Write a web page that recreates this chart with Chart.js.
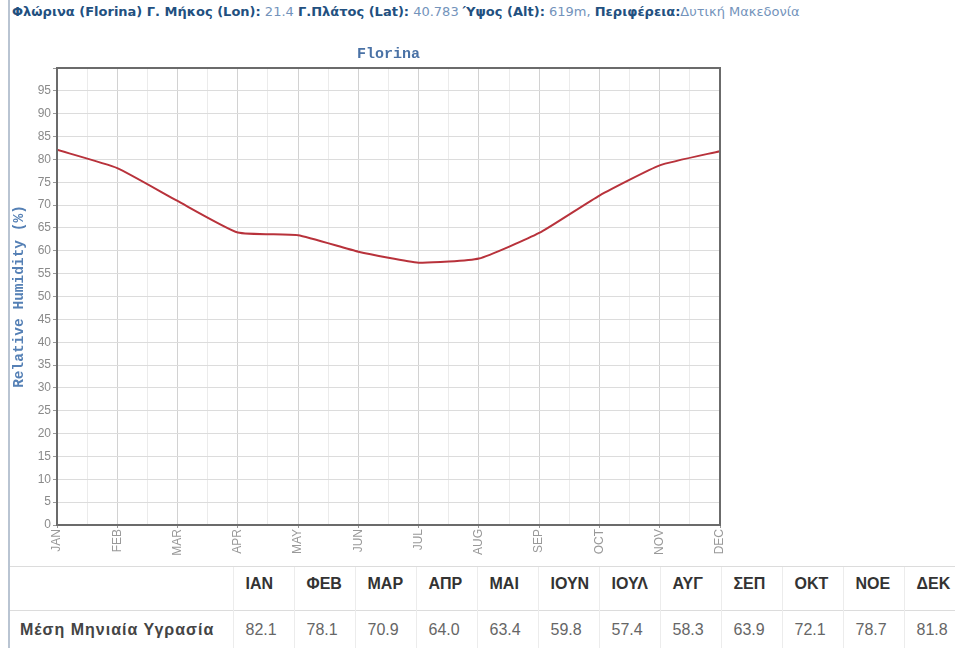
<!DOCTYPE html>
<html>
<head>
<meta charset="utf-8">
<script src="https://cdn.jsdelivr.net/npm/chart.js@4.4.1/dist/chart.umd.min.js"></script>
<style>
  html, body { margin: 0; padding: 0; background: #fff; }
  body { width: 955px; height: 648px; position: relative; overflow: hidden; font-family: "Liberation Sans", Arial, sans-serif; }
  .edge { position: absolute; left: 8px; top: 0; width: 2px; height: 648px; background: #b9c4d2; }
  .info { position: absolute; left: 12px; top: 4px; font-family: "DejaVu Sans", Verdana, sans-serif; font-size: 13px; line-height: 16px; color: #7393bb; white-space: nowrap; }
  .info b { color: #22507f; }
  .wrap { position: absolute; left: 10px; top: 38px; width: 770px; height: 527px; }
  table { position: absolute; left: 10px; top: 566px; border-collapse: collapse; table-layout: fixed; width: 955px; font-size: 16px; }
  td, th { border-left: 1px solid #ececec; border-top: 1px solid #dcdcdc; padding: 0 0 0 12px; white-space: nowrap; text-align: left; vertical-align: top; line-height: 18px; overflow: hidden; }
  th { height: 44px; box-sizing: border-box; padding-top: 8px; color: #333; font-weight: bold; }
  td { height: 40px; box-sizing: border-box; padding-top: 10px; color: #666; }
  td.lab { font-weight: bold; color: #444; padding-left: 10px; letter-spacing: 1px; }
  tr > :first-child { border-left: none; }
</style>
</head>
<body>
<div class="edge"></div>
<div class="info"><b>Φλώρινα (Florina) Γ. Μήκος (Lon):</b> 21.4 <b>Γ.Πλάτος (Lat):</b> 40.783 <b>Ύψος (Alt):</b> 619m, <b>Περιφέρεια:</b>Δυτική Μακεδονία</div>
<div class="wrap"><canvas id="canvas"></canvas></div>
<table id="tbl"></table>

<script>
// μέση μηνιαία υγρασία - Florina
var months = ['JAN','FEB','MAR','APR','MAY','JUN','JUL','AUG','SEP','OCT','NOV','DEC'];
var greekMonths = ['ΙΑΝ','ΦΕΒ','ΜΑΡ','ΑΠΡ','ΜΑΙ','ΙΟΥΝ','ΙΟΥΛ','ΑΥΓ','ΣΕΠ','ΟΚΤ','ΝΟΕ','ΔΕΚ'];
var humidity = [82.1, 78.1, 70.9, 64.0, 63.4, 59.8, 57.4, 58.3, 63.9, 72.1, 78.7, 81.8];
var rowLabel = 'Μέση Μηνιαία Υγρασία';
var yMin = 0, yMax = 100, yStep = 5;

// table under the chart
var tbl = document.getElementById('tbl');
var cols = '<colgroup><col style="width:223px">' + greekMonths.map(function(){ return '<col style="width:61px">'; }).join('') + '</colgroup>';
var head = '<tr><th></th>' + greekMonths.map(function(m){ return '<th>' + m + '</th>'; }).join('') + '</tr>';
var row = '<tr><td class="lab">' + rowLabel + '</td>' + humidity.map(function(v){ return '<td>' + v.toFixed(1) + '</td>'; }).join('') + '</tr>';
tbl.innerHTML = cols + head + row;

var frame = {
  id: 'frame',
  afterDatasetsDraw: function(chart) {
    var a = chart.chartArea, c = chart.ctx;
    c.save();
    c.strokeStyle = '#6b6b6b';
    c.lineWidth = 2;
    c.strokeRect(a.left, a.top, a.right - a.left, a.bottom - a.top);
    c.restore();
  }
};

var mono = "'Liberation Mono', 'DejaVu Sans Mono', monospace";
var sans = "'Liberation Sans', Arial, sans-serif";

var ctx = document.getElementById('canvas').getContext('2d');
var chart = new Chart(ctx, {
  type: 'line',
  data: {
    datasets: [{
      label: 'Relative Humidity',
      data: humidity.map(function(v, i){ return { x: i, y: v }; }),
      borderColor: '#b8323b',
      borderWidth: 2,
      pointRadius: 0,
      tension: 0.15,
      fill: false
    }]
  },
  options: {
    responsive: true,
    maintainAspectRatio: false,
    animation: false,
    layout: { padding: { left: 0, right: 60, top: 0, bottom: 0 } },
    plugins: {
      legend: { display: false },
      tooltip: { enabled: false },
      title: {
        display: true,
        fullSize: false,
        text: 'Florina',
        color: '#4a72a6',
        font: { family: mono, size: 15, weight: 'bold' },
        padding: { top: 7, bottom: 5 }
      }
    },
    scales: {
      x: {
        type: 'linear',
        min: 0,
        max: months.length - 1,
        afterFit: function(s){ s.height = 40; },
        border: { display: false },
        grid: {
          color: function(c){ return Number.isInteger(c.tick.value) ? '#d2d2d2' : '#ebebeb'; },
          tickColor: function(c){ return Number.isInteger(c.tick.value) ? '#999' : 'rgba(0,0,0,0)'; },
          tickLength: 3
        },
        ticks: {
          stepSize: 0.5,
          autoSkip: false,
          minRotation: 90,
          maxRotation: 90,
          padding: 1,
          color: '#999',
          font: { family: sans, size: 12 },
          callback: function(v){ return Number.isInteger(v) ? months[v] : ''; }
        }
      },
      y: {
        min: yMin,
        max: yMax,
        afterFit: function(s){ s.width = 47; },
        border: { display: false },
        grid: { color: '#dcdcdc', tickColor: '#999', tickLength: 4 },
        title: {
          display: true,
          text: 'Relative Humidity (%)',
          color: '#5580b5',
          font: { family: mono, size: 14.5, weight: 'bold' },
          padding: { top: 1, bottom: 0 }
        },
        ticks: {
          stepSize: yStep,
          padding: 2,
          color: '#8a8a8a',
          font: { family: sans, size: 12 },
          callback: function(v){ return v === yMax ? '' : v; }
        }
      }
    }
  },
  plugins: [frame]
});
</script>
</body>
</html>
